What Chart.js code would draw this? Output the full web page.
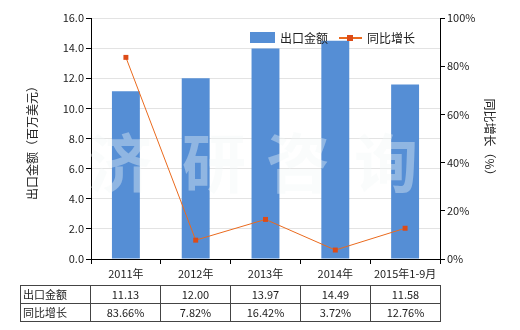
<!DOCTYPE html>
<html><head><meta charset="utf-8">
<script src="https://cdn.jsdelivr.net/npm/chart.js@4/dist/chart.umd.min.js"></script>
<style>
html,body{margin:0;padding:0;background:#fff;}
#wrap{position:relative;width:520px;height:330px;}
canvas{position:absolute;left:0;top:0;}
table{position:absolute;left:20px;top:285px;border-collapse:collapse;font-family:"Noto Sans CJK SC","Liberation Sans",sans-serif;font-size:11px;color:#222;}
td{border:1px solid #444;height:17px;padding:0;text-align:center;width:69px;line-height:17px;}
td.lab{text-align:left;padding-left:2px;width:67px;}
</style></head>
<body><div id="wrap"><canvas id="c" width="520" height="330"></canvas><table id="t"></table></div>
<script>
const categories = ["2011年","2012年","2013年","2014年","2015年1-9月"];
const exportValues = [11.13, 12.00, 13.97, 14.49, 11.58];
const growthValues = [83.66, 7.82, 16.42, 3.72, 12.76];
const exportLabels = ["11.13","12.00","13.97","14.49","11.58"];
const growthLabels = ["83.66%","7.82%","16.42%","3.72%","12.76%"];
const seriesNames = ["出口金额","同比增长"];

const FONT = '"Noto Sans CJK SC","Liberation Sans",sans-serif';
const BAR = '#558ed5', LINE = '#ea6a1e', MARK = '#dd4b17';

// table
const t = document.getElementById('t');
[[seriesNames[0], exportLabels],[seriesNames[1], growthLabels]].forEach(([n, arr]) => {
  const tr = document.createElement('tr');
  const th = document.createElement('td'); th.className='lab'; th.textContent = n; tr.appendChild(th);
  arr.forEach(v => { const td = document.createElement('td'); td.textContent = v; tr.appendChild(td); });
  t.appendChild(tr);
});

const deco = {
  id:'deco',
  beforeDatasetDraw(chart, args){
    if (args.meta.type !== 'line') return;
    const ctx = chart.ctx;
    ctx.save();
    ctx.font = 'bold 64px ' + FONT;
    ctx.fillStyle = 'rgba(242,246,246,0.38)';
    ctx.textAlign = 'center'; ctx.textBaseline = 'middle';
    const wm = ['济','研','咨','询'];
    const xs = [120, 214, 298, 386];
    wm.forEach((ch,i)=>ctx.fillText(ch, xs[i], 163));
    ctx.restore();
  },
  afterDraw(chart){
    const ctx = chart.ctx;
    ctx.save();
    ctx.fillStyle = '#222';
    ctx.font = '12px ' + FONT;
    ctx.textAlign = 'center'; ctx.textBaseline = 'middle';
    ctx.translate(32, 140); ctx.rotate(-Math.PI/2);
    ctx.fillText('出口金额（百万美元）', 0, 0);
    ctx.restore();
    ctx.save();
    ctx.fillStyle = '#222';
    ctx.font = '12px ' + FONT;
    ctx.textAlign = 'center'; ctx.textBaseline = 'middle';
    ctx.translate(490, 140); ctx.rotate(Math.PI/2);
    ctx.fillText('同比增长（%）', 0, 0);
    ctx.restore();
    // legend
    ctx.save();
    ctx.fillStyle = BAR;
    ctx.fillRect(250, 32, 25, 11);
    ctx.fillStyle = '#222';
    ctx.font = '12px ' + FONT;
    ctx.textBaseline = 'middle';
    ctx.fillText(seriesNames[0], 280, 38);
    ctx.strokeStyle = LINE; ctx.lineWidth = 2;
    ctx.beginPath(); ctx.moveTo(339, 38); ctx.lineTo(362, 38); ctx.stroke();
    ctx.fillStyle = MARK; ctx.fillRect(347, 35, 6, 6);
    ctx.fillStyle = '#222';
    ctx.fillText(seriesNames[1], 367, 38);
    ctx.restore();
  }
};

new Chart(document.getElementById('c'), {
  data: {
    labels: categories,
    datasets: [
      { type:'line', label: seriesNames[1], data: growthValues, yAxisID:'y1', order:0,
        borderColor: LINE, borderWidth: 1, pointStyle:'rect', pointRadius:3.5,
        pointBackgroundColor: MARK, pointBorderColor: MARK, pointBorderWidth:0, tension:0 },
      { type:'bar', label: seriesNames[0], data: exportValues, yAxisID:'y', order:1,
        backgroundColor: BAR, categoryPercentage:1, barPercentage:0.4 }
    ]
  },
  options: {
    responsive:false, animation:false,
    layout:{ padding:{ top:18, left:0, right:0, bottom:0 } },
    plugins:{ legend:{display:false}, tooltip:{enabled:false} },
    scales:{
      x:{
        grid:{ display:true, drawOnChartArea:false, drawTicks:true, tickLength:5, color:'#000', offset:true },
        border:{ color:'#000', width:1 },
        ticks:{ color:'#222', font:{ family:FONT, size:11 }, padding:3, maxRotation:0, autoSkip:false },
        afterFit(s){ s.height = 71; }
      },
      y:{
        position:'left', min:0, max:16,
        grid:{ color:'#e3e3e3', tickLength:5, tickColor:'#000' },
        border:{ color:'#000', width:1 },
        ticks:{ stepSize:2, color:'#222', font:{ family:FONT, size:11 }, padding:2, callback:v=>v.toFixed(1) },
        afterFit(s){ s.width = 91; }
      },
      y1:{
        position:'right', min:0, max:100,
        grid:{ drawOnChartArea:false, tickLength:5, color:'#000' },
        border:{ color:'#000', width:1 },
        ticks:{ stepSize:20, color:'#222', font:{ family:FONT, size:11 }, padding:2, callback:v=>v+'%' },
        afterFit(s){ s.width = 80; }
      }
    }
  },
  plugins:[deco]
});
</script></body></html>
